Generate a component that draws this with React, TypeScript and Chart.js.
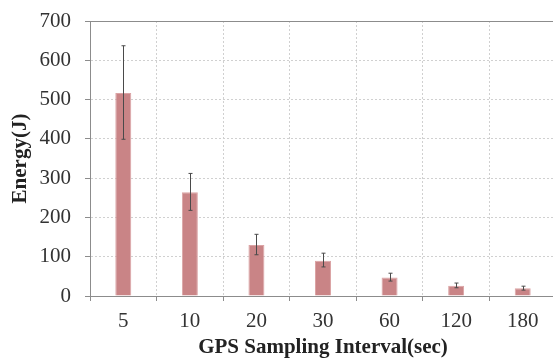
import React, { useEffect, useRef } from "react";
import { Chart, registerables } from "chart.js";

Chart.register(...registerables);

const categories = ["5", "10", "20", "30", "60", "120", "180"];
const energy = [517, 264, 130, 90, 47, 26, 20];
const errorPlus = [120, 48, 27, 19, 11, 7, 5];
const errorMinus = [118, 46, 25, 16, 9, 5, 5];
const yTicks = [0, 100, 200, 300, 400, 500, 600, 700];

const serif = "'Liberation Serif', 'Times New Roman', serif";

const errorBarPlugin = {
  id: "errorBars",
  afterDatasetsDraw(chart: any) {
    const { ctx, chartArea } = chart;
    const y = chart.scales.y;
    const meta = chart.getDatasetMeta(0);
    ctx.save();
    ctx.strokeStyle = "#8c8c8c";
    ctx.lineWidth = 1;
    ctx.beginPath();
    ctx.moveTo(chartArea.left, Math.round(chartArea.top) + 0.5);
    ctx.lineTo(chartArea.right, Math.round(chartArea.top) + 0.5);
    ctx.stroke();
    ctx.strokeStyle = "#4a4a4a";
    meta.data.forEach((bar: any, i: number) => {
      const x = Math.round(bar.x) + 0.5;
      const yt = y.getPixelForValue(energy[i] + errorPlus[i]);
      const yb = y.getPixelForValue(energy[i] - errorMinus[i]);
      ctx.beginPath();
      ctx.moveTo(x, yt);
      ctx.lineTo(x, yb);
      ctx.moveTo(x - 2, yt);
      ctx.lineTo(x + 2, yt);
      ctx.moveTo(x - 2, yb);
      ctx.lineTo(x + 2, yb);
      ctx.stroke();
    });
    ctx.restore();
  },
};

export default function App() {
  const ref = useRef<HTMLCanvasElement>(null);
  useEffect(() => {
    if (!ref.current) return;
    const chart = new Chart(ref.current, {
      type: "bar",
      data: {
        labels: categories,
        datasets: [
          {
            data: energy,
            backgroundColor: "#c98486",
            borderColor: "#dba3a4",
            borderWidth: 1,
            barPercentage: 0.24,
            categoryPercentage: 1,
          },
        ],
      },
      options: {
        responsive: false,
        animation: false,
        layout: { padding: { top: 21, right: 1, bottom: 0, left: 0 } },
        plugins: { legend: { display: false }, tooltip: { enabled: false } },
        scales: {
          x: {
            offset: true,
            afterFit: (axis: any) => {
              axis.height = 65;
              axis.paddingLeft = 0;
              axis.paddingRight = 0;
            },
            grid: {
              offset: true,
              color: "#d0d0d0",
              lineWidth: 1,
              drawTicks: true,
              tickLength: 5,
              tickColor: "#8c8c8c",
              tickBorderDash: [],
            },
            border: { color: "#8c8c8c", width: 1, dash: [2, 2] },
            ticks: {
              color: "#333",
              font: { family: serif, size: 21 },
              padding: 8,
            },
            title: {
              display: true,
              text: "GPS Sampling Interval(sec)",
              color: "#222",
              font: { family: serif, size: 21, weight: "bold" },
              padding: { top: 0, bottom: 1 },
            },
          },
          y: {
            min: 0,
            max: 700,
            afterFit: (axis: any) => {
              axis.width = 90;
              axis.paddingTop = 0;
              axis.paddingBottom = 0;
            },
            afterBuildTicks: (axis: any) => {
              axis.ticks = yTicks.map((v) => ({ value: v }));
            },
            grid: {
              color: "#d0d0d0",
              lineWidth: 1,
              drawTicks: true,
              tickLength: 5,
              tickColor: "#8c8c8c",
              tickBorderDash: [],
            },
            border: { color: "#8c8c8c", width: 1, dash: [2, 2] },
            ticks: {
              color: "#333",
              font: { family: serif, size: 21 },
              padding: 14,
            },
            title: {
              display: true,
              text: "Energy(J)",
              color: "#222",
              font: { family: serif, size: 21, weight: "bold" },
              padding: { top: 8, bottom: 0 },
            },
          },
        },
      },
      plugins: [errorBarPlugin],
    });
    return () => chart.destroy();
  }, []);
  return (
    <div style={{ position: "fixed", left: 0, top: 0, width: 557, height: 361, background: "#fff" }}>
      <canvas ref={ref} width={557} height={361} style={{ display: "block" }} />
    </div>
  );
}
